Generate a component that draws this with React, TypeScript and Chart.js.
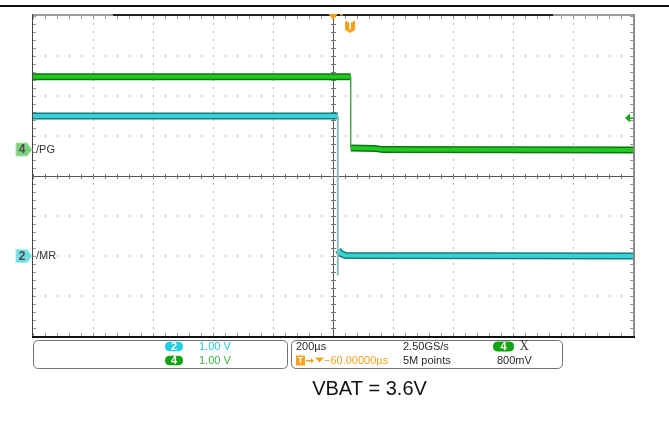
import React, { useEffect, useRef } from "react";
import { Chart, registerables } from "chart.js";
Chart.register(...registerables);

// Horizontal: 200 µs/div, 10 divisions, delay reference at 0 µs
const timeRange = [-1000, 1000];
const timeMajor = 200;
const timeMinor = 40;
// Channel 2 (/MR): 1.00 V/div, ground 2 div below centre
const ch2Range = [-2, 6];
// Channel 4 (/PG): 1.00 V/div, ground 0.65 div above centre
const ch4Range = [-4.65, 3.35];
const voltMajor = 1;
const voltMinor = 0.2;

// /MR (channel 2, cyan)
const mrHighTime = [-1000, 16];
const mrHighVolts = [3.5, 3.5];
const mrEdgeTime = [16, 16];
const mrEdgeVolts = [3.5, -0.48];
const mrLowTime = [17, 26, 42, 1000];
const mrLowVolts = [0.15, 0.06, 0.01, 0.0];

// /PG (channel 4, green)
const pgHighTime = [-1000, 59];
const pgHighVolts = [1.83, 1.83];
const pgEdgeTime = [59, 59];
const pgEdgeVolts = [1.83, 0.05];
const pgLowTime = [59, 140, 165, 1000];
const pgLowVolts = [0.05, 0.04, 0.01, 0.0];

const triggerTime = 57;
const triggerLevel = 0.8;

const channelLabels = ["/MR", "/PG"];
const panelTexts = {
  ch2Scale: "1.00 V",
  ch4Scale: "1.00 V",
  timebase: "200µs",
  sampleRate: "2.50GS/s",
  delay: "−60.00000µs",
  points: "5M points",
  trigLevel: "800mV",
};
const caption = "VBAT = 3.6V";

const pts = (t: number[], v: number[]) => t.map((x, i) => ({ x, y: v[i] }));

const GREEN_DARK = "#0f760f";
const GREEN = "#22c922";
const CYAN_DARK = "#177c7e";
const CYAN = "#38d2d5";
const ORANGE = "#f5a11c";
const FONT = "'Liberation Sans', Arial, sans-serif";

function roundRect(ctx: CanvasRenderingContext2D, x: number, y: number, w: number, h: number, r: number) {
  ctx.beginPath();
  ctx.moveTo(x + r, y);
  ctx.lineTo(x + w - r, y);
  ctx.quadraticCurveTo(x + w, y, x + w, y + r);
  ctx.lineTo(x + w, y + h - r);
  ctx.quadraticCurveTo(x + w, y + h, x + w - r, y + h);
  ctx.lineTo(x + r, y + h);
  ctx.quadraticCurveTo(x, y + h, x, y + h - r);
  ctx.lineTo(x, y + r);
  ctx.quadraticCurveTo(x, y, x + r, y);
  ctx.closePath();
}

function pill(ctx: CanvasRenderingContext2D, cx: number, cy: number, w: number, h: number, fill: string, label: string) {
  roundRect(ctx, cx - w / 2, cy - h / 2, w, h, h / 2);
  ctx.fillStyle = fill;
  ctx.fill();
  ctx.fillStyle = "#ffffff";
  ctx.font = `bold 11px ${FONT}`;
  ctx.textAlign = "center";
  ctx.textBaseline = "middle";
  ctx.fillText(label, cx, cy + 0.5);
}

const scopePlugin = {
  id: "scopeDecor",
  beforeDatasetsDraw(chart: any) {
    const { ctx, chartArea, scales } = chart;
    const xs = scales.x;
    const ys = scales.y2;
    const { left, right, top, bottom } = chartArea;
    ctx.save();
    // dotted grid
    ctx.fillStyle = "#b5b5b5";
    for (let t = timeRange[0] + timeMajor; t < timeRange[1]; t += timeMajor) {
      const x = Math.round(xs.getPixelForValue(t));
      for (let v = ch2Range[0]; v <= ch2Range[1] + 1e-6; v += voltMinor) {
        const y = Math.round(ys.getPixelForValue(v));
        ctx.fillRect(x, y - 1, 1, 2);
      }
    }
    for (let v = ch2Range[0] + voltMajor; v < ch2Range[1]; v += voltMajor) {
      const y = Math.round(ys.getPixelForValue(v));
      for (let t = timeRange[0]; t <= timeRange[1]; t += timeMinor) {
        const x = Math.round(xs.getPixelForValue(t));
        ctx.fillRect(x, y - 1, 1, 2);
      }
    }
    // border minor ticks
    ctx.fillStyle = "#9a9a9a";
    for (let t = timeRange[0]; t <= timeRange[1]; t += timeMinor) {
      const x = Math.round(xs.getPixelForValue(t));
      ctx.fillRect(x, top, 1, 3);
      ctx.fillRect(x, bottom - 3, 1, 3);
    }
    for (let v = ch2Range[0]; v <= ch2Range[1] + 1e-6; v += voltMinor) {
      const y = Math.round(ys.getPixelForValue(v));
      ctx.fillRect(left, y, 3, 1);
      ctx.fillRect(right - 3, y, 3, 1);
    }
    // centre crosshair
    const cx = Math.round(xs.getPixelForValue(0));
    const cy = Math.round(ys.getPixelForValue((ch2Range[0] + ch2Range[1]) / 2));
    ctx.fillStyle = "#555555";
    ctx.fillRect(cx, top, 1, bottom - top);
    ctx.fillRect(left, cy, right - left, 1);
    ctx.fillStyle = "#777777";
    for (let v = ch2Range[0]; v <= ch2Range[1] + 1e-6; v += voltMinor) {
      const y = Math.round(ys.getPixelForValue(v));
      ctx.fillRect(cx - 2, y, 5, 1);
    }
    for (let t = timeRange[0]; t <= timeRange[1]; t += timeMinor) {
      const x = Math.round(xs.getPixelForValue(t));
      ctx.fillRect(x, cy - 2, 1, 5);
    }
    ctx.restore();
  },
  afterDraw(chart: any) {
    const { ctx, chartArea, scales } = chart;
    const xs = scales.x;
    const y2 = scales.y2;
    const y4 = scales.y4;
    const { left, right, top, bottom } = chartArea;
    ctx.save();
    // top line of the screenshot
    ctx.fillStyle = "#111111";
    ctx.fillRect(0, 5, chart.width, 2);
    // frame
    ctx.fillStyle = "#9a9a9a";
    ctx.fillRect(left, top - 2, right - left + 1, 2);
    ctx.fillStyle = "#222222";
    ctx.fillRect(left + 80, top - 2, 440, 2);
    ctx.fillStyle = "#444444";
    ctx.fillRect(left - 1, top - 2, 1, bottom - top + 2);
    ctx.fillStyle = "#8a8a8a";
    ctx.fillRect(right, top - 2, 2, bottom - top + 2);
    ctx.fillStyle = "#111111";
    ctx.fillRect(left - 1, bottom, right - left + 3, 2);

    // delay reference triangle (orange)
    const cx = xs.getPixelForValue(0);
    ctx.fillStyle = ORANGE;
    ctx.beginPath();
    ctx.moveTo(cx - 4.5, top - 2);
    ctx.lineTo(cx + 4.5, top - 2);
    ctx.lineTo(cx, top + 4);
    ctx.closePath();
    ctx.fill();
    ctx.fillRect(cx + 7, top - 2, 3, 1.5);

    // trigger "T" badge
    const tx = xs.getPixelForValue(triggerTime);
    ctx.beginPath();
    ctx.moveTo(tx - 5, top + 5);
    ctx.lineTo(tx + 5, top + 5);
    ctx.lineTo(tx + 5, top + 14);
    ctx.lineTo(tx, top + 17);
    ctx.lineTo(tx - 5, top + 14);
    ctx.closePath();
    ctx.fill();
    ctx.fillStyle = "#ffffff";
    ctx.font = `bold 10px ${FONT}`;
    ctx.textAlign = "center";
    ctx.textBaseline = "middle";
    ctx.fillText("T", tx, top + 10.5);

    // trigger level arrow (channel 4)
    const ty = y4.getPixelForValue(triggerLevel);
    ctx.fillStyle = "#1aa51a";
    ctx.beginPath();
    ctx.moveTo(right - 8, ty);
    ctx.lineTo(right - 3, ty - 4.5);
    ctx.lineTo(right - 3, ty + 4.5);
    ctx.closePath();
    ctx.fill();
    ctx.fillRect(right - 4, ty - 0.5, 4, 1.5);

    // channel ground markers
    const marker = (yPix: number, fill: string, edge: string, num: string, label: string) => {
      ctx.beginPath();
      ctx.moveTo(16, yPix - 6.5);
      ctx.lineTo(27, yPix - 6.5);
      ctx.lineTo(32, yPix);
      ctx.lineTo(27, yPix + 6.5);
      ctx.lineTo(16, yPix + 6.5);
      ctx.closePath();
      ctx.fillStyle = fill;
      ctx.fill();
      ctx.strokeStyle = edge;
      ctx.lineWidth = 1;
      ctx.stroke();
      ctx.fillStyle = "#4d4d4d";
      ctx.font = `bold 12px ${FONT}`;
      ctx.textAlign = "center";
      ctx.textBaseline = "middle";
      ctx.fillText(num, 22, yPix + 0.5);
      ctx.fillStyle = "#333333";
      ctx.font = `11px ${FONT}`;
      ctx.textAlign = "left";
      ctx.fillText(label, 36, yPix);
    };
    marker(Math.round(y4.getPixelForValue(0)) - 0.5, "#7dcf7d", "#a9e6a9", "4", channelLabels[1]);
    marker(Math.round(y2.getPixelForValue(0)), "#6fdfe4", "#a6eef0", "2", channelLabels[0]);

    // info panels
    ctx.strokeStyle = "#6f6f6f";
    ctx.lineWidth = 1;
    roundRect(ctx, 33.5, 340.5, 254, 28, 5);
    ctx.stroke();
    roundRect(ctx, 291.5, 340.5, 271, 28, 5);
    ctx.stroke();

    const r1 = 346.5;
    const r2 = 360.5;
    pill(ctx, 174, r1, 18, 9.5, "#22cfe0", "2");
    pill(ctx, 174, r2, 18, 9.5, "#13a313", "4");
    ctx.font = `11px ${FONT}`;
    ctx.textAlign = "left";
    ctx.textBaseline = "middle";
    ctx.fillStyle = "#27cbd8";
    ctx.fillText(panelTexts.ch2Scale, 199, r1);
    ctx.fillStyle = "#3bb53b";
    ctx.fillText(panelTexts.ch4Scale, 199, r2);

    ctx.fillStyle = "#2a2a2a";
    ctx.fillText(panelTexts.timebase, 296, r1);
    ctx.fillText(panelTexts.sampleRate, 403, r1);
    ctx.fillText(panelTexts.points, 403, r2);
    ctx.fillText(panelTexts.trigLevel, 497, r2);
    pill(ctx, 503.5, r1, 21, 10, "#13a313", "4");
    ctx.fillStyle = "#444444";
    ctx.font = `12px 'DejaVu Serif', serif`;
    ctx.textAlign = "left";
    ctx.fillText("X", 520, r1);

    // delay line: T badge, arrow, triangle, value
    ctx.fillStyle = ORANGE;
    ctx.fillRect(296, r2 - 5, 9, 10);
    ctx.fillStyle = "#ffffff";
    ctx.font = `bold 9px ${FONT}`;
    ctx.textAlign = "center";
    ctx.fillText("T", 300.5, r2 + 0.5);
    ctx.fillStyle = ORANGE;
    ctx.fillRect(306, r2 - 0.5, 5, 1.5);
    ctx.beginPath();
    ctx.moveTo(311, r2 - 2.5);
    ctx.lineTo(314, r2 + 0.25);
    ctx.lineTo(311, r2 + 3);
    ctx.closePath();
    ctx.fill();
    ctx.beginPath();
    ctx.moveTo(315, r2 - 3);
    ctx.lineTo(324, r2 - 3);
    ctx.lineTo(319.5, r2 + 2);
    ctx.closePath();
    ctx.fill();
    ctx.font = `11px ${FONT}`;
    ctx.textAlign = "left";
    ctx.fillText(panelTexts.delay, 324, r2);

    // caption
    ctx.fillStyle = "#111111";
    ctx.font = `20px ${FONT}`;
    ctx.textAlign = "center";
    ctx.textBaseline = "alphabetic";
    ctx.fillText(caption, 369.5, 395);
    ctx.restore();
  },
};

export default function App() {
  const ref = useRef<HTMLCanvasElement | null>(null);
  useEffect(() => {
    document.body.style.margin = "0";
    const canvas = ref.current;
    if (!canvas) return;
    const line = (data: any, color: string, width: number, axis: string, order: number) => ({
      data,
      borderColor: color,
      borderWidth: width,
      yAxisID: axis,
      pointRadius: 0,
      tension: 0,
      fill: false,
      order,
      borderCapStyle: "butt",
      borderJoinStyle: "miter",
    });
    const chart = new Chart(canvas, {
      type: "line",
      data: {
        datasets: [
          line(pts(mrEdgeTime, mrEdgeVolts), "#94bcbd", 2, "y2", 1),
          line(pts(mrHighTime, mrHighVolts), CYAN, 4, "y2", 2),
          line(pts(mrHighTime, mrHighVolts), CYAN_DARK, 7, "y2", 3),
          line(pts(mrLowTime, mrLowVolts), CYAN, 4, "y2", 2),
          line(pts(mrLowTime, mrLowVolts), CYAN_DARK, 7, "y2", 3),
          line(pts(pgEdgeTime, pgEdgeVolts), "#4f9d4f", 1.5, "y4", 4),
          line(pts(pgHighTime, pgHighVolts), GREEN, 4, "y4", 5),
          line(pts(pgHighTime, pgHighVolts), GREEN_DARK, 7, "y4", 6),
          line(pts(pgLowTime, pgLowVolts), GREEN, 4, "y4", 5),
          line(pts(pgLowTime, pgLowVolts), GREEN_DARK, 7, "y4", 6),
        ] as any,
      },
      options: {
        responsive: false,
        animation: false,
        events: [],
        layout: { padding: { left: 33, right: 36, top: 16, bottom: 85 } },
        plugins: { legend: { display: false }, tooltip: { enabled: false }, title: { display: false } },
        scales: {
          x: { type: "linear", min: timeRange[0], max: timeRange[1], display: false },
          y2: { type: "linear", min: ch2Range[0], max: ch2Range[1], display: false },
          y4: { type: "linear", min: ch4Range[0], max: ch4Range[1], display: false },
        },
      } as any,
      plugins: [scopePlugin],
    });
    return () => chart.destroy();
  }, []);
  return <canvas ref={ref} width={669} height={421} style={{ display: "block" }} />;
}
